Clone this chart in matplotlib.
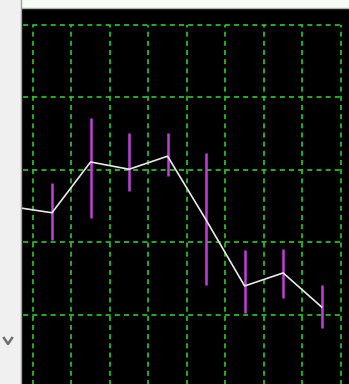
"""
Price range chart with closing line (dark terminal style)
"""

import matplotlib
matplotlib.use("Agg")
import matplotlib.pyplot as plt
from matplotlib.lines import Line2D
from matplotlib.patches import Rectangle

# data: index 0 sits behind the left panel, bars start at index 1
idx = [0, 1, 2, 3, 4, 5, 6, 7, 8]
close = [34.9, 34.1, 41.1, 40.1, 41.9, 33.1, 24.0, 25.8, 21.1]
bar_idx = [1, 2, 3, 4, 5, 6, 7, 8]
high = [38.2, 47.2, 45.1, 45.1, 42.3, 29.0, 29.1, 24.1]
low = [30.3, 33.4, 37.1, 39.2, 24.1, 20.3, 22.3, 18.2]
grid_y = [20, 30, 40, 50, 60]
grid_x = [0.5, 1.5, 2.5, 3.5, 4.5, 5.5, 6.5, 7.5, 8.5]

W, H = 349, 384
fig = plt.figure(figsize=(W / 100, H / 100), dpi=100)
fig.patch.set_facecolor("#f0f0f0")

# top strip
fig.patches.append(Rectangle((22 / W, 1 - 8 / H), 1, 8 / H, transform=fig.transFigure,
                             facecolor="#f7fcf7", edgecolor="none"))
fig.lines.append(Line2D([22 / W, 1], [1 - 7.5 / H] * 2, transform=fig.transFigure,
                        color="#b0b0b0", lw=1))
# left panel border
fig.lines.append(Line2D([20.5 / W] * 2, [0, 1], transform=fig.transFigure,
                        color="#a0a0a0", lw=1))
# little chevron
fig.lines.append(Line2D([4 / W, 8 / W, 12 / W], [1 - 338 / H, 1 - 344 / H, 1 - 338 / H],
                        transform=fig.transFigure, color="#707070", lw=1.8))

ax = fig.add_axes([22 / W, 0, (W - 22) / W, (H - 8) / H])
ax.set_facecolor("black")
ax.set_xlim(0.22, 8.71)
ax.set_ylim(10.48, 62.34)

ax.hlines(grid_y, 0, grid_x[-1], colors="#2ec82e", linestyles=(0, (3, 2.5)), lw=1.2)
ax.vlines(grid_x, 0, grid_y[-1], colors="#2ec82e", linestyles=(0, (3, 2.5)), lw=1.2)

ax.vlines(bar_idx, low, high, colors="#c040d8", lw=1.8, zorder=3)
ax.plot(idx, close, color="#e8e8e8", lw=1.2, zorder=4)

ax.set_xticks([])
ax.set_yticks([])
for s in ax.spines.values():
    s.set_visible(False)

fig.savefig("out.png", dpi=100, facecolor=fig.get_facecolor())
